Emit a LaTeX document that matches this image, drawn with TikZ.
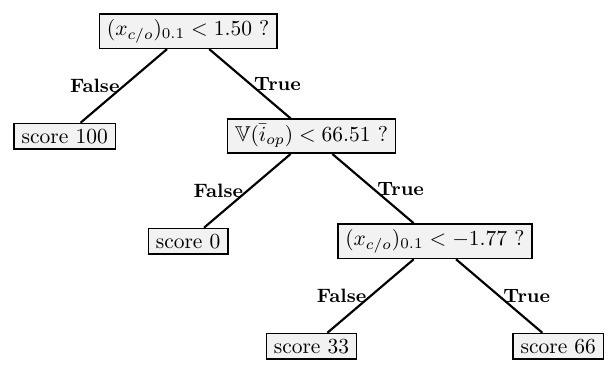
\documentclass[tikz,border=0pt]{standalone}
\usepackage{amsmath}
\usepackage{amssymb}
\usepackage{tikz}
\usetikzlibrary{positioning}

\begin{document}
\begin{tikzpicture}[
    node distance=1.72cm and 2.02cm, on grid,
    box/.style={rectangle, draw=black, fill=gray!10, line width=0.7pt, inner xsep=3.5pt, inner ysep=2.5pt},
    lbl/.style={font=\fontsize{9}{11}\bfseries\selectfont, inner sep=1.5pt},
    edge/.style={line width=1pt, color=black}
]
    \useasboundingbox (0,0) rectangle (10.02,-6.106);

    % Nodes
    \node[box] (root) at (3.08,-0.51) {$(x_{c/o})_{0.1} < 1.50$ ?};
    \node[box, below left=of root] (s100) {score 100};
    \node[box, below right=of root] (vol) {$\mathbb{V}(\bar{i}_{op}) < 66.51$ ?};
    \node[box, below left=of vol] (s0) {score 0};
    \node[box, below right=of vol] (cond) {$(x_{c/o})_{0.1} < -1.77$ ?};
    \node[box, below left=of cond] (s33) {score 33};
    \node[box, below right=of cond] (s66) {score 66};

    % Edges
    \draw[edge] (root) -- node[lbl, left] {False} (s100);
    \draw[edge] (root) -- node[lbl, right] {True} (vol);
    \draw[edge] (vol) -- node[lbl, left] {False} (s0);
    \draw[edge] (vol) -- node[lbl, right] {True} (cond);
    \draw[edge] (cond) -- node[lbl, left] {False} (s33);
    \draw[edge] (cond) -- node[lbl, right] {True} (s66);

\end{tikzpicture}
\end{document}
